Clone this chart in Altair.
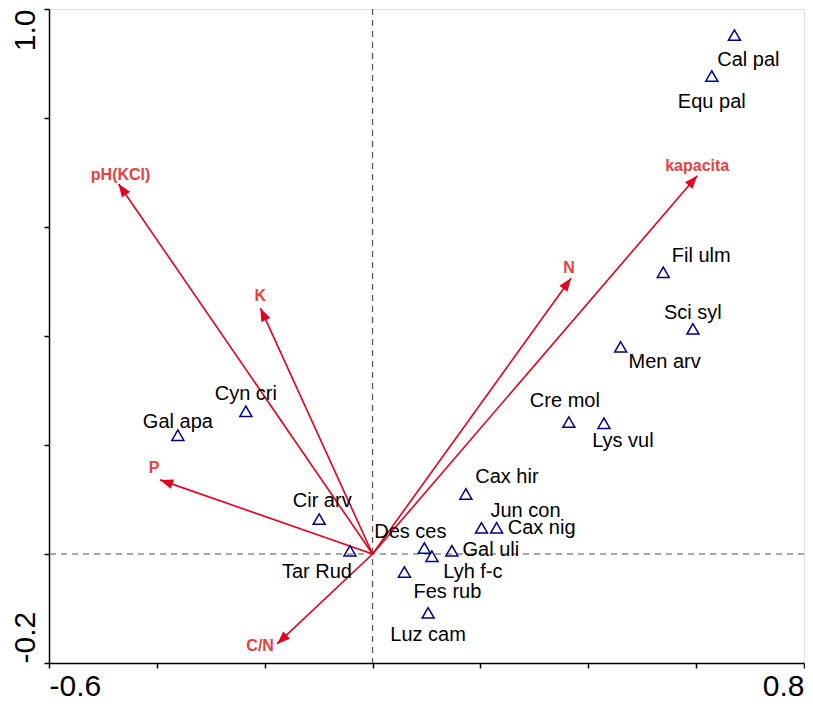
import math
import altair as alt
import pandas as pd

# ---- species scores ----
species = ["Cal pal", "Equ pal", "Fil ulm", "Sci syl", "Men arv", "Cre mol", "Lys vul",
           "Cax hir", "Jun con", "Cax nig", "Des ces", "Lyh f-c", "Gal uli", "Fes rub",
           "Luz cam", "Gal apa", "Cyn cri", "Cir arv", "Tar Rud"]
sp_x = [0.671, 0.629, 0.539, 0.594, 0.460, 0.364, 0.429,
        0.173, 0.202, 0.230, 0.096, 0.110, 0.147, 0.059,
        0.103, -0.361, -0.235, -0.099, -0.042]
sp_y = [0.952, 0.877, 0.517, 0.413, 0.380, 0.242, 0.240,
        0.110, 0.048, 0.048, 0.011, -0.004, 0.006, -0.033,
        -0.108, 0.218, 0.262, 0.064, 0.006]

# ---- environmental variables (arrow tips) ----
env = ["pH(KCl)", "K", "P", "C/N", "N", "kapacita"]
env_x = [-0.471, -0.208, -0.394, -0.177, 0.368, 0.602]
env_y = [0.679, 0.451, 0.136, -0.165, 0.506, 0.694]

# ---- axis ticks ----
x_ticks = [-0.6, -0.4, -0.2, 0.0, 0.2, 0.4, 0.6, 0.8]
x_tick_labels = ["-0.6", "", "", "", "", "", "", "0.8"]
y_ticks = [-0.2, 0.0, 0.2, 0.4, 0.6, 0.8, 1.0]
y_tick_labels = ["-0.2", "", "", "", "", "", "1.0"]

# ---- label placement (pixel nudges, style only) ----
sp_label_offset = {
    "Cal pal": (14, 25), "Equ pal": (0, 26), "Fil ulm": (38, -16), "Sci syl": (0, -16),
    "Men arv": (44, 15), "Cre mol": (-4, -21), "Lys vul": (19, 18), "Cax hir": (41, -17),
    "Jun con": (44, -17), "Cax nig": (45, 0), "Des ces": (-14, -16), "Lyh f-c": (41, 16),
    "Gal uli": (39, -1), "Fes rub": (43, 20), "Luz cam": (0, 22), "Gal apa": (0, -13),
    "Cyn cri": (0, -17), "Cir arv": (3, -18), "Tar Rud": (-33, 21),
}
env_label_offset = {
    "pH(KCl)": (2, -9), "K": (0, -12), "P": (-6, -12), "C/N": (-17, 2),
    "N": (-2, -10), "kapacita": (0, -10),
}

FONT = "Liberation Sans, Arial, sans-serif"
ARROW = "#E2001A"
ENV_LABEL = "#E8413F"
NAVY = "#000080"


def label_expr(ticks, labels):
    expr = "''"
    for t, l in zip(ticks, labels):
        if l:
            expr = f"abs(datum.value - ({t})) < 1e-6 ? '{l}' : " + expr
    return expr


xs = alt.Scale(domain=[x_ticks[0], x_ticks[-1]], nice=False, zero=False)
ys = alt.Scale(domain=[y_ticks[0], y_ticks[-1]], nice=False, zero=False)

x_axis = alt.Axis(values=x_ticks, labelExpr=label_expr(x_ticks, x_tick_labels), title=None,
                  grid=False, labelFlush=True, labelOverlap=False, labelFont=FONT,
                  labelFontSize=30, labelColor="black", labelPadding=3, tickSize=5,
                  tickWidth=1.5, tickColor="black", domainColor="black", domainWidth=1.5)
y_axis = alt.Axis(values=y_ticks, labelExpr=label_expr(y_ticks, y_tick_labels), title=None,
                  grid=False, labelFlush=False, labelOverlap=False, labelFont=FONT,
                  labelFontSize=30, labelColor="black", labelAngle=270,
                  labelAlign={"condition": {"test": "datum.value < 0.4", "value": "left"},
                              "value": "right"},
                  labelBaseline="alphabetic", labelPadding=10, tickSize=5, tickWidth=1.5,
                  tickColor="black", domainColor="black", domainWidth=1.5)


def X(field):
    return alt.X(field, type="quantitative", scale=xs, axis=x_axis)


def Y(field):
    return alt.Y(field, type="quantitative", scale=ys, axis=y_axis)


sp_df = pd.DataFrame({"name": species, "x": sp_x, "y": sp_y})
env_df = pd.DataFrame({"name": env, "x": env_x, "y": env_y})
env_df["x0"] = 0.0
env_df["y0"] = 0.0
zero_df = pd.DataFrame({"x": [0.0], "y": [0.0]})

vline = alt.Chart(zero_df).mark_rule(color="#555555", strokeDash=[6, 5], strokeWidth=1.2).encode(x=X("x"))
hline = alt.Chart(zero_df).mark_rule(color="#555555", strokeDash=[6, 5], strokeWidth=1.2).encode(y=Y("y"))

arrows = alt.Chart(env_df).mark_rule(color=ARROW, strokeWidth=1.6).encode(
    x=X("x0"), y=Y("y0"), x2="x:Q", y2="y:Q")

heads = alt.Chart(env_df).transform_calculate(
    ang="(atan2(datum.x, datum.y) * 180 / PI + 360) % 360"
).mark_point(shape="M0,0 L-0.38,1 L0.38,1 Z", filled=True, size=676, color=ARROW,
             opacity=1, strokeWidth=0).encode(
    x=X("x"), y=Y("y"), angle=alt.Angle("ang:Q", scale=None))

layers = [vline, hline, arrows, heads]

for name, (dx, dy) in env_label_offset.items():
    layers.append(
        alt.Chart(env_df).transform_filter(alt.datum.name == name).mark_text(
            font=FONT, fontSize=16, fontWeight="bold", color=ENV_LABEL, dx=dx, dy=dy,
            align="center", baseline="middle").encode(x=X("x"), y=Y("y"), text="name:N"))

tri = alt.Chart(sp_df).mark_point(shape="triangle-up", size=144, filled=False, color=NAVY,
                                  strokeWidth=1.5, opacity=1).encode(x=X("x"), y=Y("y"))
layers.append(tri)

for name, (dx, dy) in sp_label_offset.items():
    layers.append(
        alt.Chart(sp_df).transform_filter(alt.datum.name == name).mark_text(
            font=FONT, fontSize=20, color="black", dx=dx, dy=dy,
            align="center", baseline="middle").encode(x=X("x"), y=Y("y"), text="name:N"))

chart = alt.layer(*layers).properties(
    width=755, height=654,
    autosize=alt.AutoSizeParams(type="none"),
    padding={"left": 41, "top": 1, "right": 1, "bottom": 33},
).configure_view(stroke="black", strokeWidth=1.5).configure(background="white")

chart.save("out.html", embed_options={"renderer": "svg", "actions": False})
